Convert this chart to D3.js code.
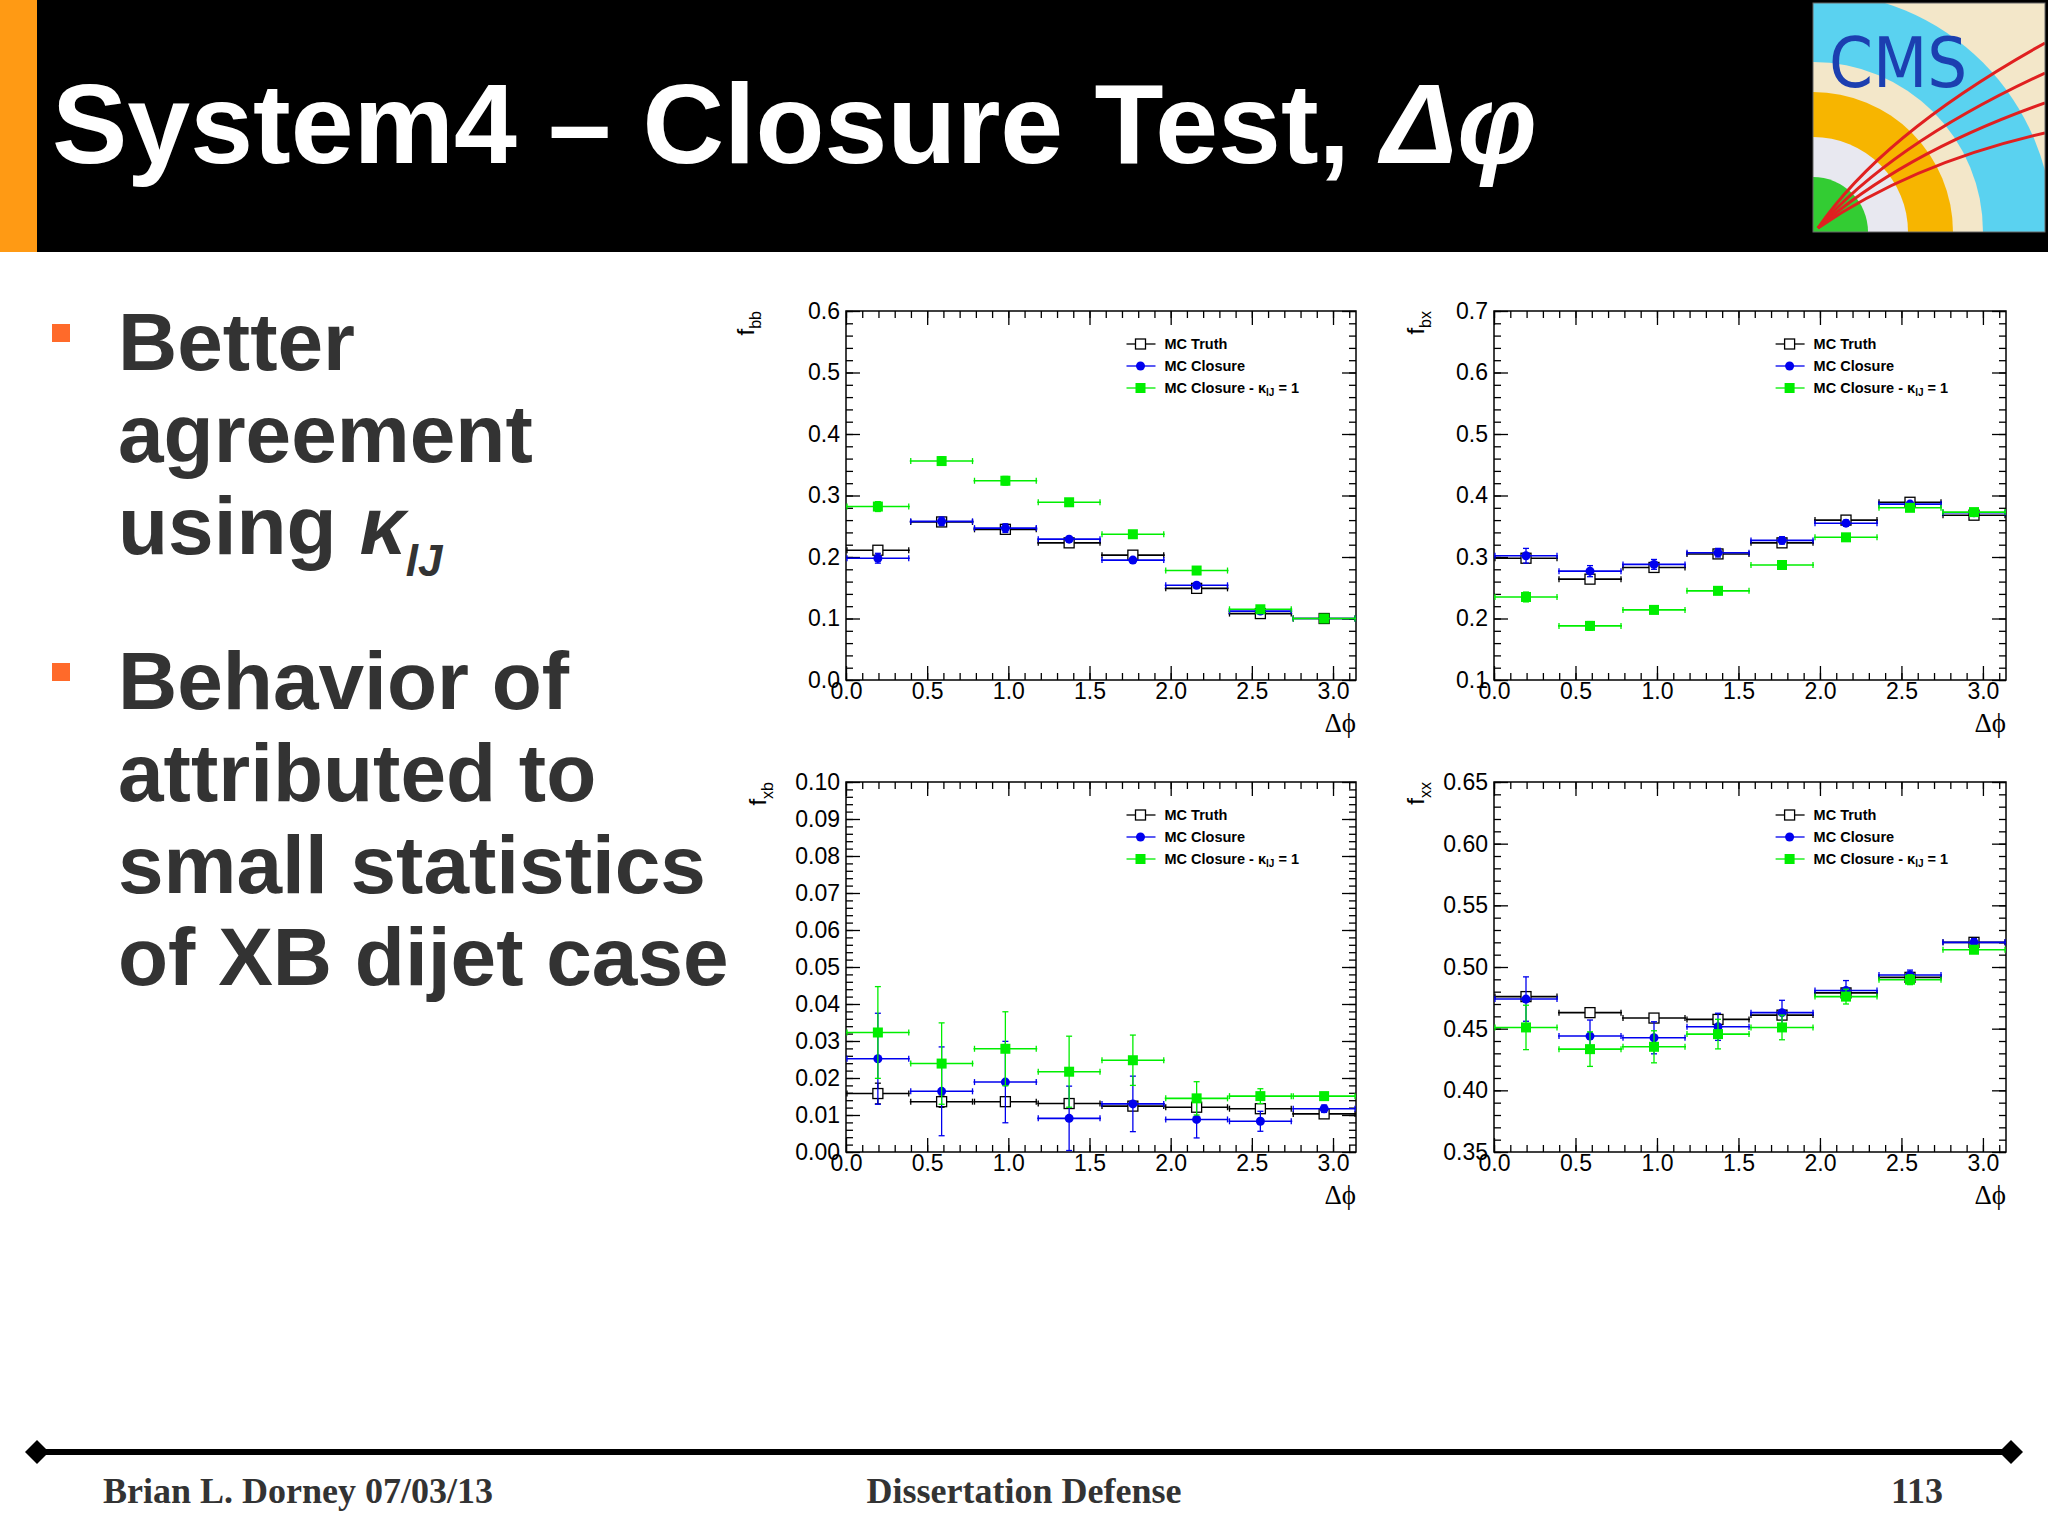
<!DOCTYPE html>
<html>
<head>
<meta charset="utf-8">
<script src="https://cdnjs.cloudflare.com/ajax/libs/d3/7.8.5/d3.min.js"></script>
<style>
  body { margin: 0; background: #fff; }
  svg text { font-family: "Liberation Sans", Arial, sans-serif; }
  .tick text { font-size: 23px; fill: #000; }
</style>
</head>
<body>
<svg id="slide" width="2048" height="1535"></svg>
<script>
// bin edges: 8 bins over [0, pi]
var nBins = 8;
var seriesNames = ["MC Truth", "MC Closure", "MC Closure - \u03BA"];

// f_bb
var bbTruth   = [0.211, 0.257, 0.245, 0.223, 0.203, 0.149, 0.108, 0.100];
var bbClosure = [0.198, 0.258, 0.247, 0.229, 0.195, 0.154, 0.112, 0.100];
var bbKappa   = [0.282, 0.356, 0.324, 0.289, 0.237, 0.178, 0.115, 0.100];
var bbTruthErr   = [0.004, 0.004, 0.004, 0.003, 0.003, 0.003, 0.002, 0.002];
var bbClosureErr = [0.008, 0.007, 0.007, 0.004, 0.004, 0.004, 0.003, 0.002];
var bbKappaErr   = [0.008, 0.007, 0.007, 0.005, 0.004, 0.004, 0.003, 0.002];

// f_bx
var bxTruth   = [0.298, 0.264, 0.283, 0.305, 0.323, 0.360, 0.389, 0.368];
var bxClosure = [0.302, 0.277, 0.288, 0.307, 0.327, 0.355, 0.386, 0.372];
var bxKappa   = [0.235, 0.188, 0.214, 0.245, 0.287, 0.332, 0.380, 0.373];
var bxTruthErr   = [0.007, 0.005, 0.005, 0.005, 0.004, 0.004, 0.004, 0.003];
var bxClosureErr = [0.012, 0.009, 0.008, 0.007, 0.006, 0.005, 0.004, 0.003];
var bxKappaErr   = [0.008, 0.007, 0.006, 0.006, 0.005, 0.004, 0.004, 0.003];

// f_xb
var xbTruth   = [0.0158, 0.0136, 0.0136, 0.0131, 0.0124, 0.0121, 0.0117, 0.0103];
var xbClosure = [0.0252, 0.0164, 0.0189, 0.0091, 0.0130, 0.0088, 0.0083, 0.0117];
var xbKappa   = [0.0323, 0.0239, 0.0279, 0.0217, 0.0248, 0.0145, 0.0151, 0.0151];
var xbTruthErr   = [0.0028, 0.0015, 0.0012, 0.0010, 0.0010, 0.0008, 0.0008, 0.0006];
var xbClosureErr = [0.0123, 0.0120, 0.0110, 0.0087, 0.0075, 0.0050, 0.0027, 0.0010];
var xbKappaErr   = [0.0124, 0.0110, 0.0100, 0.0096, 0.0068, 0.0045, 0.0020, 0.0010];

// f_xx
var xxTruth   = [0.476, 0.463, 0.4586, 0.4575, 0.461, 0.479, 0.4916, 0.520];
var xxClosure = [0.474, 0.444, 0.4426, 0.4515, 0.463, 0.481, 0.4935, 0.520];
var xxKappa   = [0.451, 0.4334, 0.4353, 0.4456, 0.451, 0.476, 0.4897, 0.514];
var xxTruthErr   = [0.004, 0.003, 0.003, 0.003, 0.003, 0.003, 0.002, 0.002];
var xxClosureErr = [0.018, 0.013, 0.013, 0.011, 0.010, 0.008, 0.004, 0.003];
var xxKappaErr   = [0.018, 0.014, 0.013, 0.012, 0.010, 0.006, 0.004, 0.003];

var bulletLines = [
  ["Better", "agreement", "using \u03BA"],
  ["Behavior of", "attributed to", "small statistics", "of XB dijet case"]
];

var colors = ["#000000", "#0000ee", "#00ee00"];

var svg = d3.select("#slide");

// ---- header ----
svg.append("rect").attr("x", 0).attr("y", 0).attr("width", 2048).attr("height", 252).attr("fill", "#000");
svg.append("rect").attr("x", 0).attr("y", 0).attr("width", 37).attr("height", 252).attr("fill", "#ff9a14");
var title = svg.append("text").attr("x", 52).attr("y", 163)
  .attr("fill", "#fff").style("font-size", "113px").style("font-weight", "bold");
title.append("tspan").text("System4 \u2013 Closure Test, ");
title.append("tspan").style("font-style", "italic").text("\u0394\u03C6");

// rough CMS logo
var logo = svg.append("g").attr("transform", "translate(1813,3)");
logo.append("clipPath").attr("id", "lc").append("rect").attr("width", 232).attr("height", 229);
var lg = logo.append("g").attr("clip-path", "url(#lc)");
lg.append("rect").attr("width", 232).attr("height", 229).attr("fill", "#f3e7c9");
lg.append("circle").attr("cx", 0).attr("cy", 229).attr("r", 240).attr("fill", "#5ad2f0");
lg.append("circle").attr("cx", 0).attr("cy", 229).attr("r", 170).attr("fill", "#f3e7c9");
lg.append("circle").attr("cx", 0).attr("cy", 229).attr("r", 140).attr("fill", "#f7b500");
lg.append("circle").attr("cx", 0).attr("cy", 229).attr("r", 95).attr("fill", "#e8e8f0");
lg.append("circle").attr("cx", 0).attr("cy", 229).attr("r", 55).attr("fill", "#33cc33");
[[-20, 60], [-10, 90], [0, 120], [10, 150]].forEach(function (c) {
  lg.append("path").attr("d", "M5,225 Q" + (90 + c[0]) + "," + (110 + c[1] / 3) + " 232," + (c[1] - 20))
    .attr("fill", "none").attr("stroke", "#e02020").attr("stroke-width", 3);
});
lg.append("text").attr("x", 16).attr("y", 84).attr("fill", "#1c3fb0")
  .style("font-size", "70px").style("font-family", "'DejaVu Sans Condensed', sans-serif").text("CMS");
logo.append("rect").attr("width", 232).attr("height", 229).attr("fill", "none").attr("stroke", "#666");

// ---- bullets ----
var bulletTop = [370, 709];
bulletLines.forEach(function (lines, bi) {
  svg.append("rect").attr("x", 52).attr("y", bulletTop[bi] - 46).attr("width", 18).attr("height", 18).attr("fill", "#ff6a2a");
  lines.forEach(function (l, li) {
    var t = svg.append("text").attr("x", 118).attr("y", bulletTop[bi] + li * 92)
      .attr("fill", "#333").style("font-size", "82px").style("font-weight", "bold").text(l);
    if (bi === 0 && li === 2) {
      t.text("using ");
      t.append("tspan").style("font-style", "italic").text("\u03BA");
      t.append("tspan").attr("dy", 22).style("font-size", "44px").style("font-style", "italic").text("lJ");
    }
  });
});

// ---- footer ----
svg.append("line").attr("x1", 37).attr("x2", 2011).attr("y1", 1452).attr("y2", 1452).attr("stroke", "#000").attr("stroke-width", 6);
[37, 2011].forEach(function (x) {
  svg.append("path").attr("d", "M" + (x - 12) + ",1452 L" + x + ",1440 L" + (x + 12) + ",1452 L" + x + ",1464 Z").attr("fill", "#000");
});
var foot = [["Brian L. Dorney 07/03/13", 103, "start"], ["Dissertation Defense", 1024, "middle"], ["113", 1943, "end"]];
foot.forEach(function (f) {
  svg.append("text").attr("x", f[1]).attr("y", 1503).attr("text-anchor", f[2])
    .style("font-family", "'Liberation Serif', serif").style("font-size", "36px").style("font-weight", "bold")
    .attr("fill", "#333").text(f[0]);
});

// ---- panels ----
var panels = [
  { left: 846, top: 311, w: 510, h: 369, yOff: -92, dom: [0, 0.6], major: 0.1, fmt: ".1f", sub: "bb",
    data: [bbTruth, bbClosure, bbKappa], err: [bbTruthErr, bbClosureErr, bbKappaErr] },
  { left: 1494, top: 311, w: 512, h: 369, yOff: -70, dom: [0.1, 0.7], major: 0.1, fmt: ".1f", sub: "bx",
    data: [bxTruth, bxClosure, bxKappa], err: [bxTruthErr, bxClosureErr, bxKappaErr] },
  { left: 846, top: 782, w: 510, h: 370, yOff: -80, dom: [0, 0.1], major: 0.01, fmt: ".2f", sub: "xb",
    data: [xbTruth, xbClosure, xbKappa], err: [xbTruthErr, xbClosureErr, xbKappaErr] },
  { left: 1494, top: 782, w: 512, h: 370, yOff: -70, dom: [0.35, 0.65], major: 0.05, fmt: ".2f", sub: "xx",
    data: [xxTruth, xxClosure, xxKappa], err: [xxTruthErr, xxClosureErr, xxKappaErr] }
];

function range(a, b, s) {
  var out = [], n = Math.round((b - a) / s);
  for (var i = 0; i <= n; i++) out.push(+(a + i * s).toFixed(6));
  return out;
}

panels.forEach(function (p) {
  var g = svg.append("g").attr("transform", "translate(" + p.left + "," + p.top + ")");
  var x = d3.scaleLinear().domain([0, Math.PI]).range([0, p.w]);
  var y = d3.scaleLinear().domain(p.dom).range([p.h, 0]);
  var bw = Math.PI / nBins;

  var xMajor = range(0, 3.0, 0.5), xMinor = range(0, 3.1, 0.1);
  var yMajor = range(p.dom[0], p.dom[1], p.major), yMinor = range(p.dom[0], p.dom[1], p.major / 5);

  function ax(gen, tr, vals, size, labels) {
    var a = gen.tickValues(vals).tickSizeInner(size).tickSizeOuter(0).tickPadding(6);
    a.tickFormat(labels ? labels : "");
    var s = g.append("g").attr("transform", tr).call(a);
    s.select(".domain").remove();
    s.selectAll("line").attr("stroke", "#000").attr("stroke-width", 1.3);
    return s;
  }
  var xl = ax(d3.axisBottom(x), "translate(0," + p.h + ")", xMajor, -14, d3.format(".1f"));
  xl.selectAll("text").attr("dy", "0.55em");
  ax(d3.axisBottom(x), "translate(0," + p.h + ")", xMinor, -7);
  ax(d3.axisTop(x), "translate(0,0)", xMajor, -14);
  ax(d3.axisTop(x), "translate(0,0)", xMinor, -7);
  ax(d3.axisLeft(y), "translate(0,0)", yMajor, -14, d3.format(p.fmt));
  ax(d3.axisLeft(y), "translate(0,0)", yMinor, -7);
  ax(d3.axisRight(y), "translate(" + p.w + ",0)", yMajor, -14);
  ax(d3.axisRight(y), "translate(" + p.w + ",0)", yMinor, -7);

  g.append("rect").attr("width", p.w).attr("height", p.h).attr("fill", "none").attr("stroke", "#000").attr("stroke-width", 1.5);

  // axis titles
  g.append("text").attr("x", p.w).attr("y", p.h + 52).attr("text-anchor", "end")
    .style("font-family", "'Liberation Serif', serif").style("font-size", "27px").text("\u0394\u03D5");
  var yt = g.append("text").attr("transform", "translate(" + p.yOff + ",0) rotate(-90)").attr("text-anchor", "end").style("font-size", "24px");
  yt.append("tspan").text("f");
  yt.append("tspan").attr("dy", 7).style("font-size", "16px").text(p.sub);

  // data
  var clip = "clip" + p.sub;
  g.append("clipPath").attr("id", clip).append("rect").attr("width", p.w).attr("height", p.h);
  var dg = g.append("g").attr("clip-path", "url(#" + clip + ")");
  p.data.forEach(function (vals, si) {
    var c = colors[si];
    var s = dg.append("g");
    vals.forEach(function (v, i) {
      var cx = x((i + 0.5) * bw), cy = y(v);
      var e = p.err[si][i];
      s.append("line").attr("x1", x(i * bw)).attr("x2", x((i + 1) * bw)).attr("y1", cy).attr("y2", cy)
        .attr("stroke", c).attr("stroke-width", 1.6);
      [x(i * bw) + 1, x((i + 1) * bw) - 1].forEach(function (ex) {
        s.append("line").attr("x1", ex).attr("x2", ex).attr("y1", cy - 3).attr("y2", cy + 3).attr("stroke", c).attr("stroke-width", 1.3);
      });
      s.append("line").attr("x1", cx).attr("x2", cx).attr("y1", y(v - e)).attr("y2", y(v + e)).attr("stroke", c).attr("stroke-width", 1.3);
      [y(v - e), y(v + e)].forEach(function (ey) {
        s.append("line").attr("x1", cx - 3).attr("x2", cx + 3).attr("y1", ey).attr("y2", ey).attr("stroke", c).attr("stroke-width", 1.3);
      });
      drawMarker(s, si, cx, cy);
    });
  });

  // legend
  var lx = p.w * 0.55, ly = 33;
  seriesNames.forEach(function (n, si) {
    var yy = ly + si * 22;
    g.append("line").attr("x1", lx).attr("x2", lx + 29).attr("y1", yy).attr("y2", yy).attr("stroke", colors[si]).attr("stroke-width", 1.3);
    drawMarker(g, si, lx + 14, yy);
    var t = g.append("text").attr("x", lx + 38).attr("y", yy + 5).style("font-size", "14.5px").style("font-weight", "bold").text(n);
    if (si === 2) {
      t.append("tspan").attr("dy", 3).style("font-size", "10px").text("lJ");
      t.append("tspan").attr("dy", -3).text(" = 1");
    }
  });
});

function drawMarker(s, si, cx, cy) {
  if (si === 0) {
    s.append("rect").attr("x", cx - 5).attr("y", cy - 5).attr("width", 10).attr("height", 10)
      .attr("fill", "#fff").attr("stroke", "#000").attr("stroke-width", 1.3);
  } else if (si === 1) {
    s.append("circle").attr("cx", cx).attr("cy", cy).attr("r", 4.5).attr("fill", colors[1]);
  } else {
    s.append("rect").attr("x", cx - 5).attr("y", cy - 5).attr("width", 10).attr("height", 10).attr("fill", colors[2]);
  }
}
</script>
</body>
</html>
